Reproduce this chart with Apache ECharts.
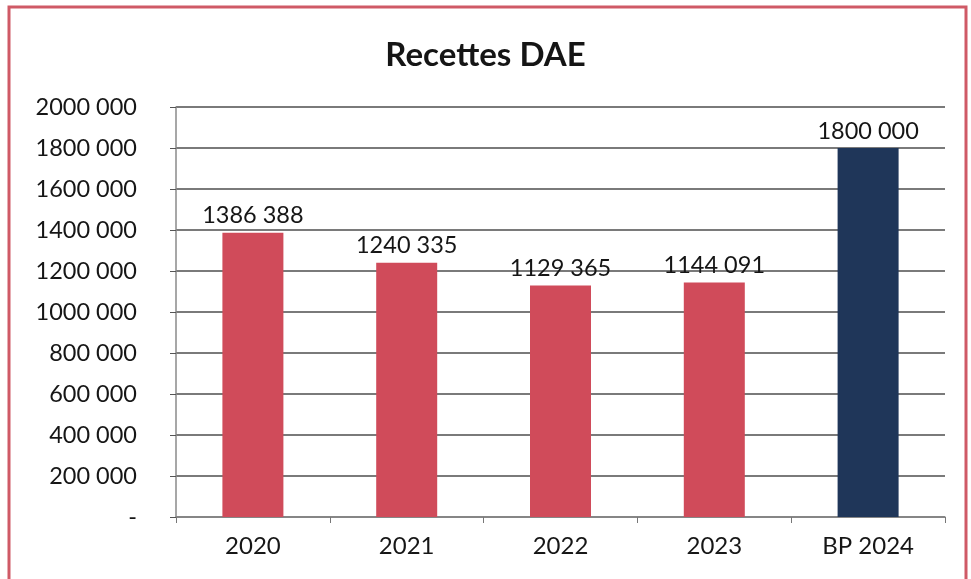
<!DOCTYPE html>
<html><head><meta charset="utf-8">
<script src="https://cdn.jsdelivr.net/npm/echarts@6/dist/echarts.min.js"></script>
<style>html,body{margin:0;padding:0;background:#fff}#c{width:971px;height:579px}</style>
</head><body><div id="c"></div>
<script>
const categories = ['2020', '2021', '2022', '2023', 'BP 2024'];
const values = [1386388, 1240335, 1129365, 1144091, 1800000];
const barColors = ['#d04b5a', '#d04b5a', '#d04b5a', '#d04b5a', '#1f3659'];
const yMin = 0, yMax = 2000000, yStep = 200000;

function fmt(v) {
  if (v === 0) return '-';
  const s = String(Math.round(v));
  return s.length > 3 ? s.slice(0, s.length - 3) + ' ' + s.slice(-3) : s;
}
const FONT = 'Lato, "Open Sans", sans-serif';
const chart = echarts.init(document.getElementById('c'));
chart.setOption({
  animation: false,
  backgroundColor: '#fff',
  title: { text: 'Recettes DAE', left: 'center', top: 34,
    textStyle: { fontFamily: FONT, fontSize: 33, fontWeight: 'bold', color: '#151515' } },
  graphic: [{ type: 'rect', shape: { x: 9, y: 7, width: 957, height: 600 },
    style: { fill: 'none', stroke: '#cf5a66', lineWidth: 3 }, silent: true }],
  grid: { left: 176, right: 26, top: 107, bottom: 62 },
  xAxis: { type: 'category', data: categories,
    axisLine: { lineStyle: { color: '#8a8a8a', width: 1.5 } },
    axisTick: { show: true, length: 6, lineStyle: { color: '#777' } },
    axisLabel: { fontFamily: FONT, fontSize: 24, color: '#161616', margin: 17 } },
  yAxis: { type: 'value', min: yMin, max: yMax, interval: yStep,
    axisLine: { show: true, lineStyle: { color: '#8a8a8a', width: 1.5 } },
    axisTick: { show: true, length: 6, lineStyle: { color: '#555' } },
    splitLine: { lineStyle: { color: '#4e4e4e', width: 1.6 } },
    axisLabel: { fontFamily: FONT, fontSize: 23.5, color: '#161616', margin: 39, formatter: fmt } },
  series: [{ type: 'bar', barWidth: 61,
    data: values.map((v, i) => ({ value: v, itemStyle: { color: barColors[i] } })),
    label: { show: true, position: 'top', distance: 5, formatter: p => fmt(p.value),
      fontFamily: FONT, fontSize: 23.5, color: '#151515' } }]
});
</script></body></html>
